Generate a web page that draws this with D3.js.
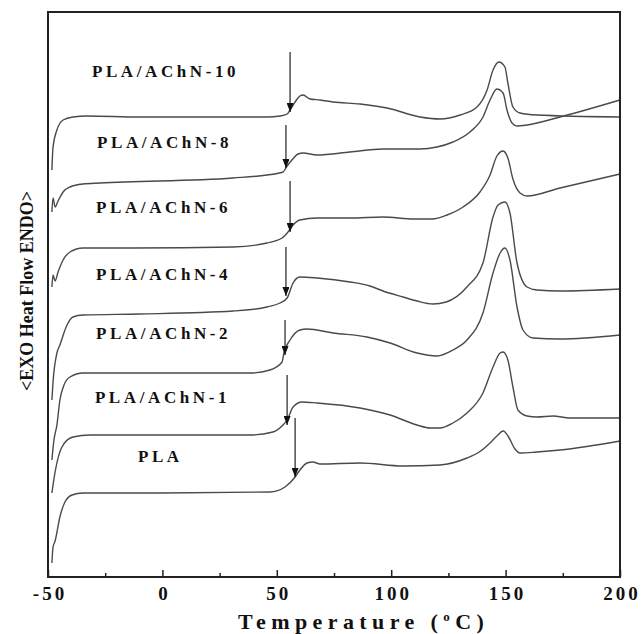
<!DOCTYPE html>
<html>
<head>
<meta charset="utf-8">
<script src="https://cdn.jsdelivr.net/npm/d3@7/dist/d3.min.js"></script>
<style>
    body { margin: 0; background: #fff; }
    text { font-family: "Liberation Serif", "Times New Roman", serif; font-weight: bold; fill: #111; }
</style>
</head>
<body>
<svg id="dsc" width="641" height="634"></svg>
<script>

    // DSC heating scans, [temperature (C), heat flow (a.u., endo up, curves shifted)]
    var names = ["PLA", "PLA/AChN-1", "PLA/AChN-2", "PLA/AChN-4", "PLA/AChN-6", "PLA/AChN-8", "PLA/AChN-10"];

    var pla = [[-48.3,1.4],[-47.8,3.0],[-46.9,3.6],[-44.8,6.0],[-42.6,7.5],[-39.5,8.2],[-34.7,8.4],[0,8.4],[47.0,8.5],
        [53.6,9.0],[58.0,10.0],[60.1,10.7],[63.2,11.4],[65.8,11.5],[68.9,11.3],[86.4,11.4],[105.2,11.1],[121.3,11.2],
        [133.1,11.9],[138.5,12.5],[143.2,13.4],[146.2,14.1],[149.0,14.6],[151.3,14.0],[154.1,12.8],[156.3,12.4],
        [163.7,12.5],[173.8,12.7],[200,13.6]];

    var achn1 = [[-48.3,8.4],[-46.9,10.5],[-43.9,13.0],[-39.1,14.0],[-31.6,14.2],[0,14.2],[38.3,14.2],[48.3,14.5],
        [52.7,15.2],[54.5,15.7],[57.1,17.0],[61.0,17.5],[67.6,17.4],[86.4,16.9],[99.5,16.2],[111.3,15.2],[117.0,14.9],
        [121.3,14.9],[127.0,15.4],[133.1,16.4],[140.1,18.4],[144.5,21.0],[147.6,22.4],[148.9,22.5],[151.0,21.7],
        [153.2,19.0],[155.4,16.7],[159.4,16.1],[163.7,16.0],[170.7,16.1],[178.1,15.9],[200,15.9]];

    var achn2 = [[-48.3,11.7],[-47.4,13.7],[-46.1,15.2],[-44.8,17.7],[-43.0,19.2],[-40.4,20.0],[-34.7,20.4],[0,20.4],
        [38.3,20.4],[47.0,20.7],[52.3,21.5],[53.1,22.4],[55.8,23.7],[60.1,24.7],[63.2,24.8],[74.6,24.4],[89.4,24.0],
        [99.5,23.4],[111.3,22.4],[120.0,22.1],[127.0,22.7],[133.1,23.7],[140.1,26.4],[144.5,30.4],[147.6,32.4],
        [149.7,32.9],[151.9,31.7],[155.0,27.0],[157.6,24.7],[162.0,23.9],[173.8,23.8],[200,24.2]];

    var achn4 = [[-48.3,17.7],[-47.8,19.5],[-46.1,22.4],[-44.8,23.2],[-41.7,25.2],[-39.1,26.0],[-34.7,26.2],[-10,26.3],
        [30.9,26.6],[45.7,27.0],[51.4,27.4],[54.5,27.9],[57.1,29.4],[60.1,30.0],[67.6,29.9],[82.0,29.5],[90.7,29.1],
        [96.4,28.6],[105.2,28.0],[111.3,27.6],[118.3,27.3],[124.0,27.5],[133.1,29.0],[140.1,31.4],[144.5,36.0],
        [146.7,37.2],[149.7,37.5],[151.9,36.4],[155.0,31.4],[159.4,29.0],[163.7,28.7],[173.8,28.6],[200,28.8]];

    var achn6 = [[-48.3,29.0],[-47.8,30.2],[-46.9,29.6],[-45.6,30.5],[-43.4,31.7],[-40.4,32.5],[-34.7,32.9],[-12.9,32.9],
        [30.9,33.0],[45.7,33.4],[52.3,33.9],[54.9,34.5],[57.1,35.2],[60.1,35.7],[67.6,35.9],[82.0,35.9],[96.4,36.0],
        [110.0,35.8],[118.0,35.8],[124.4,36.2],[131.4,37.0],[138.8,38.5],[143.2,40.2],[146.2,42.1],[148.9,42.6],
        [151.0,41.9],[153.2,39.8],[156.3,38.4],[159.4,38.1],[173.8,38.9],[200,40.3]];

    var achn8 = [[-48.3,36.5],[-47.8,37.9],[-46.9,37.0],[-45.6,37.6],[-43.4,38.5],[-40.4,39.0],[-34.7,39.3],[-27.3,39.4],
        [30.9,39.9],[45.7,40.2],[52.7,40.5],[54.5,41.1],[56.6,41.7],[59.3,42.3],[61.5,42.4],[67.6,42.2],[82.0,42.5],
        [96.4,42.8],[112.6,42.8],[120.0,43.0],[127.0,43.5],[134.4,44.5],[140.1,46.0],[143.2,47.7],[146.2,48.8],
        [148.9,48.4],[150.6,46.7],[152.8,45.4],[155.0,45.1],[159.4,45.2],[173.8,46.0],[200,47.7]];

    var achn10 = [[-48.3,40.7],[-47.8,43.0],[-46.1,44.7],[-43.4,45.7],[-39.1,46.0],[-33.0,46.1],[-10,46.0],[30.9,46.0],
        [45.7,46.0],[51.4,46.1],[54.5,46.3],[55.8,46.7],[58.0,47.5],[60.1,48.1],[61.5,48.2],[64.5,47.8],[68.9,47.7],
        [74.6,47.5],[86.4,47.3],[98.2,46.9],[112.6,46.0],[121.3,45.8],[130.1,46.2],[137.5,47.0],[141.9,48.7],
        [144.5,50.7],[147.1,51.5],[149.7,51.0],[151.0,49.4],[153.2,47.0],[156.3,46.4],[163.7,46.2],[200,46.0]];

    var curves = [pla, achn1, achn2, achn4, achn6, achn8, achn10];

    // glass transition arrows: temperature, top and tip of the arrow
    var tgT      = [58.0, 54.5, 53.6, 54.0, 55.8, 54.0, 55.8];
    var tgTop    = [15.9, 20.2, 25.7, 33.0, 39.6, 45.2, 52.5];
    var tgBottom = [10.0, 15.2, 22.2, 28.1, 34.5, 40.9, 46.5];

    // where the sample names sit (temperature, heat flow)
    var labelT = [-10.7, -29.5, -29.0, -29.0, -29.0, -28.6, -30.8];
    var labelV = [11.5, 17.4, 23.8, 29.7, 36.4, 42.9, 50.0];

    var majorTicks = [-50, 0, 50, 100, 150, 200];
    var minorTicks = [-25, 25, 75, 125, 175];

    var svg = d3.select("#dsc"),
        plotLeft = 48, plotRight = 620, plotTop = 12, plotBottom = 577;

    var x = d3.scaleLinear().domain([-50, 200]).range([plotLeft, plotRight]);
    var y = d3.scaleLinear().domain([0, 56.5]).range([plotBottom, plotTop]);

    var line = d3.line()
        .x(function(d){ return x(d[0]); })
        .y(function(d){ return y(d[1]); })
        .curve(d3.curveMonotoneX);

    svg.append("defs").append("marker")
        .attr("id", "head")
        .attr("viewBox", "0 0 9 7")
        .attr("refX", 9)
        .attr("refY", 3.5)
        .attr("markerWidth", 9)
        .attr("markerHeight", 7)
        .attr("markerUnits", "userSpaceOnUse")
        .attr("orient", "auto")
        .append("path")
        .attr("d", "M0,0L9,3.5L0,7Z")
        .style("fill", "#111");

    svg.selectAll(".curve").data(curves).enter().append("path")
        .attr("class", "curve")
        .attr("d", line)
        .style("fill", "none")
        .style("stroke", "#4a4a4a")
        .style("stroke-width", 1.4);

    svg.selectAll(".tg").data(tgT).enter().append("line")
        .attr("class", "tg")
        .attr("x1", function(d){ return x(d); })
        .attr("x2", function(d){ return x(d); })
        .attr("y1", function(d, i){ return y(tgTop[i]); })
        .attr("y2", function(d, i){ return y(tgBottom[i]); })
        .style("stroke", "#222")
        .style("stroke-width", 1.2)
        .attr("marker-end", "url(#head)");

    svg.selectAll(".name").data(names).enter().append("text")
        .attr("class", "name")
        .attr("x", function(d, i){ return x(labelT[i]); })
        .attr("y", function(d, i){ return y(labelV[i]); })
        .style("font-size", "17px")
        .style("letter-spacing", "3.6px")
        .text(function(d){ return d; });

    // frame
    svg.append("rect")
        .attr("x", plotLeft).attr("y", plotTop)
        .attr("width", plotRight - plotLeft).attr("height", plotBottom - plotTop)
        .style("fill", "none")
        .style("stroke", "#222")
        .style("stroke-width", 2);

    // inward ticks on the bottom axis
    var minorAxis = d3.axisBottom(x).tickValues(minorTicks).tickSize(-4).tickFormat("");
    var majorAxis = d3.axisBottom(x).tickValues(majorTicks).tickSize(-7).tickPadding(10)
        .tickFormat(function(d){ return String(d); });

    svg.append("g").attr("transform", "translate(0," + plotBottom + ")").call(minorAxis);
    var gx = svg.append("g").attr("transform", "translate(0," + plotBottom + ")").call(majorAxis);
    svg.selectAll(".domain").remove();
    svg.selectAll(".tick line").style("stroke", "#222").style("stroke-width", 1.5);
    gx.selectAll(".tick text")
        .attr("dx", "1.5px")
        .style("font-family", "'Liberation Serif', 'Times New Roman', serif")
        .style("font-weight", "bold")
        .style("font-size", "19px")
        .style("letter-spacing", "3px")
        .style("fill", "#111");

    var xt = svg.append("text")
        .attr("x", 238)
        .attr("y", 629)
        .style("font-size", "22px")
        .style("letter-spacing", "5.4px");
    xt.append("tspan").text("Temperature (");
    xt.append("tspan").attr("dy", "-8").style("font-size", "13px").text("o");
    xt.append("tspan").attr("dy", "8").text("C)");

    svg.append("text")
        .attr("transform", "translate(33,291) rotate(-90)")
        .attr("text-anchor", "middle")
        .style("font-size", "18px")
        .text("<EXO Heat Flow ENDO>");

</script>
</body>
</html>
